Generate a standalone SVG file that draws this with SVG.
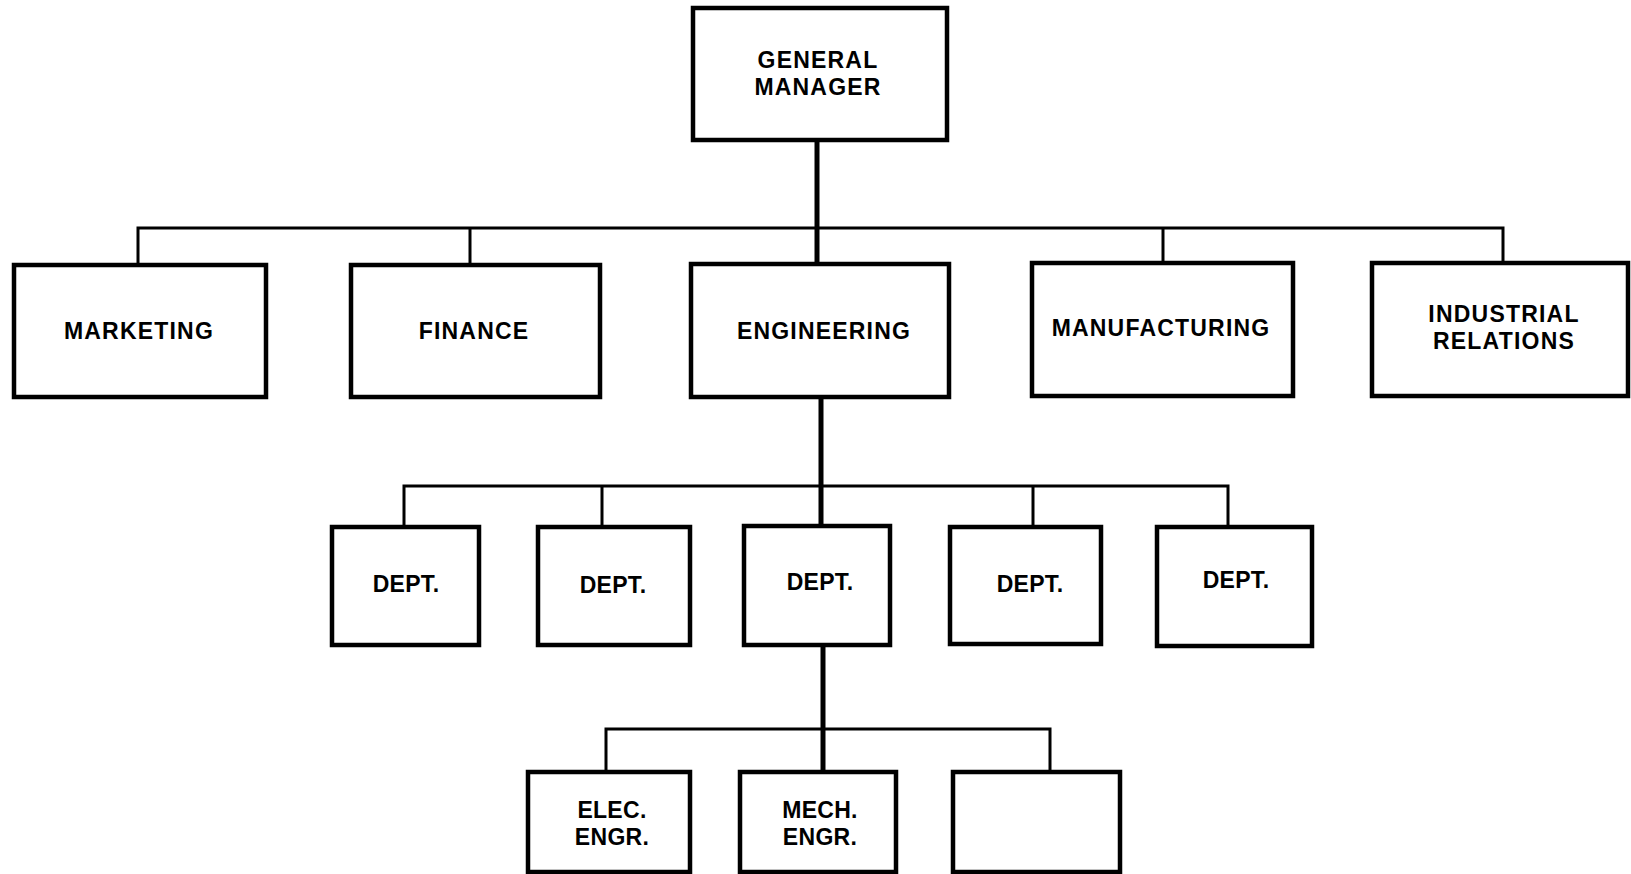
<svg xmlns="http://www.w3.org/2000/svg" width="1631" height="874" viewBox="0 0 1631 874">
<style>
.box{fill:#fff;stroke:#000;stroke-width:4.5}
.t{font-family:"Liberation Sans",Arial,sans-serif;font-weight:bold;font-size:23px;fill:#000;text-anchor:middle;letter-spacing:1.2px}
.d{letter-spacing:0.3px}
.c{fill:none;stroke:#000;stroke-width:3}
.k{fill:none;stroke:#000;stroke-width:5}
</style>
<rect width="1631" height="874" fill="#fff"/>
<g id="connectors">
<line class="k" x1="817" y1="140" x2="817" y2="264"/>
<polyline class="c" points="138,265 138,228 1503,228 1503,263"/>
<line class="c" x1="470" y1="228" x2="470" y2="265"/>
<line class="c" x1="1163" y1="228" x2="1163" y2="263"/>
<line class="k" x1="821" y1="397" x2="821" y2="527"/>
<polyline class="c" points="404,527 404,486 1228,486 1228,527"/>
<line class="c" x1="602" y1="486" x2="602" y2="527"/>
<line class="c" x1="1033" y1="486" x2="1033" y2="527"/>
<line class="k" x1="823" y1="645" x2="823" y2="772"/>
<polyline class="c" points="606,772 606,729 1050,729 1050,772"/>
</g>
<g id="general-manager"><rect class="box" x="693" y="8" width="254" height="132"/><text class="t" x="818" y="68">GENERAL</text><text class="t" x="818" y="95">MANAGER</text></g>
<g id="marketing"><rect class="box" x="14" y="265" width="252" height="132"/><text class="t" x="139" y="339">MARKETING</text></g>
<g id="finance"><rect class="box" x="351" y="265" width="249" height="132"/><text class="t" x="474" y="339">FINANCE</text></g>
<g id="engineering"><rect class="box" x="691" y="264" width="258" height="133"/><text class="t" x="824" y="339">ENGINEERING</text></g>
<g id="manufacturing"><rect class="box" x="1032" y="263" width="261" height="133"/><text class="t" x="1161" y="336">MANUFACTURING</text></g>
<g id="industrial-relations"><rect class="box" x="1372" y="263" width="256" height="133"/><text class="t" x="1504" y="322">INDUSTRIAL</text><text class="t" x="1504" y="349">RELATIONS</text></g>
<g id="dept1"><rect class="box" x="332" y="527" width="147" height="118"/><text class="t d" x="406" y="592">DEPT.</text></g>
<g id="dept2"><rect class="box" x="538" y="527" width="152" height="118"/><text class="t d" x="613" y="593">DEPT.</text></g>
<g id="dept3"><rect class="box" x="744" y="526" width="146" height="119"/><text class="t d" x="820" y="590">DEPT.</text></g>
<g id="dept4"><rect class="box" x="950" y="527" width="151" height="117"/><text class="t d" x="1030" y="592">DEPT.</text></g>
<g id="dept5"><rect class="box" x="1157" y="527" width="155" height="119"/><text class="t d" x="1236" y="588">DEPT.</text></g>
<g id="elec-engr"><rect class="box" x="528" y="772" width="162" height="100"/><text class="t d" x="612" y="818">ELEC.</text><text class="t d" x="612" y="845">ENGR.</text></g>
<g id="mech-engr"><rect class="box" x="740" y="772" width="156" height="100"/><text class="t d" x="820" y="818">MECH.</text><text class="t d" x="820" y="845">ENGR.</text></g>
<g id="blank"><rect class="box" x="953" y="772" width="167" height="100"/></g>
</svg>
